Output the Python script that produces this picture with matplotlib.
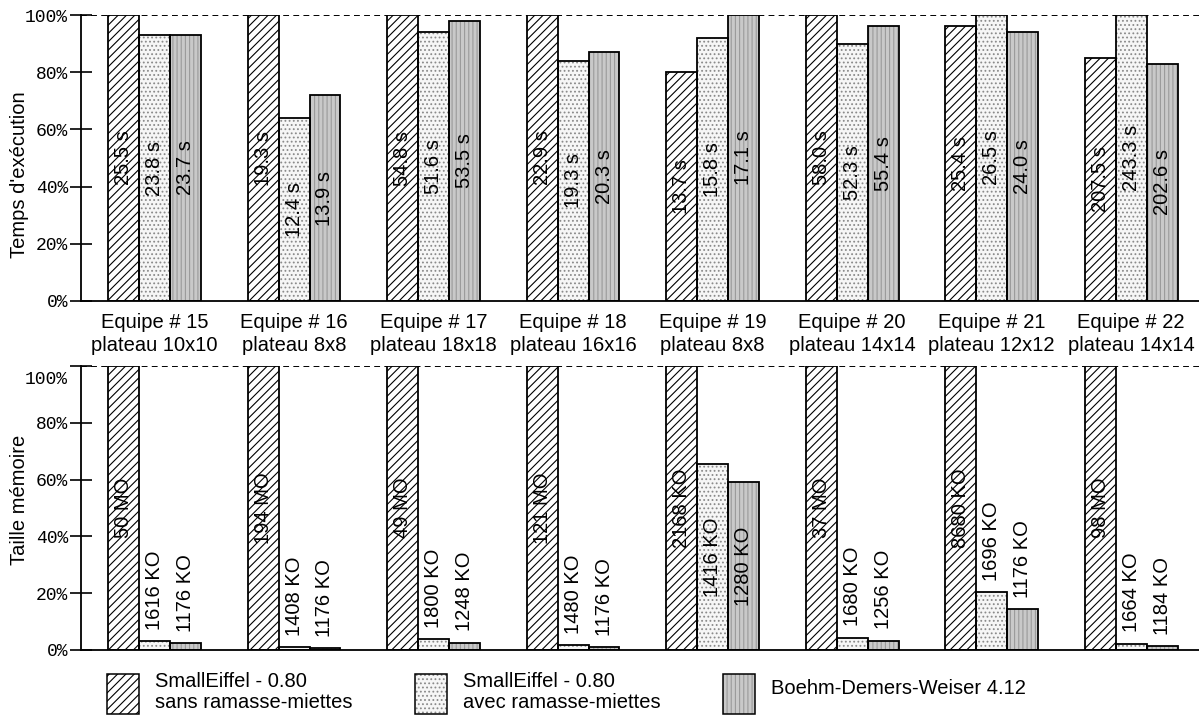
import numpy as np
import matplotlib
matplotlib.use("Agg")
import matplotlib.pyplot as plt
import matplotlib.transforms as mtrans
from matplotlib.patches import Rectangle

plt.rcParams['font.family'] = ['Liberation Sans', 'DejaVu Sans']
plt.rcParams['hatch.linewidth'] = 0.8

# data
equipes = ["Equipe # 15\nplateau 10x10", "Equipe # 16\nplateau 8x8",
           "Equipe # 17\nplateau 18x18", "Equipe # 18\nplateau 16x16",
           "Equipe # 19\nplateau 8x8", "Equipe # 20\nplateau 14x14",
           "Equipe # 21\nplateau 12x12", "Equipe # 22\nplateau 14x14"]
series = ["SmallEiffel - 0.80\nsans ramasse-miettes",
          "SmallEiffel - 0.80\navec ramasse-miettes",
          "Boehm-Demers-Weiser 4.12"]
pct_ticks = [0, 20, 40, 60, 80, 100]
pct_labels = ["0%", "20%", "40%", "60%", "80%", "100%"]

# temps d'execution (% du max)
temps_sans = [100, 100, 100, 100, 80, 100, 96, 85]
temps_avec = [93, 64, 94, 84, 92, 90, 100, 100]
temps_bdw = [93, 72, 98, 87, 100, 96, 94, 83]
temps_lbl_sans = ["25.5 s", "19.3 s", "54.8 s", "22.9 s", "13.7 s", "58.0 s", "25.4 s", "207.5 s"]
temps_lbl_avec = ["23.8 s", "12.4 s", "51.6 s", "19.3 s", "15.8 s", "52.3 s", "26.5 s", "243.3 s"]
temps_lbl_bdw = ["23.7 s", "13.9 s", "53.5 s", "20.3 s", "17.1 s", "55.4 s", "24.0 s", "202.6 s"]

# taille memoire (% du max)
mem_sans = [100, 100, 100, 100, 100, 100, 100, 100]
mem_avec = [3.2, 1.0, 3.7, 1.7, 65.5, 4.4, 20.4, 2.2]
mem_bdw = [2.3, 0.7, 2.6, 1.1, 59, 3.3, 14.4, 1.4]
mem_lbl_sans = ["50 MO", "194 MO", "49 MO", "121 MO", "2168 KO", "37 MO", "8680 KO", "98 MO"]
mem_lbl_avec = ["1616 KO", "1408 KO", "1800 KO", "1480 KO", "1416 KO", "1680 KO", "1696 KO", "1664 KO"]
mem_lbl_bdw = ["1176 KO", "1176 KO", "1248 KO", "1176 KO", "1280 KO", "1256 KO", "1176 KO", "1184 KO"]

styles = [dict(face="white", hatch="////", hcol="black"),
          dict(face="#f6f6f6", hatch="....", hcol="#8a8a8a"),
          dict(face="#c9c9c9", hatch="||||", hcol="#9a9a9a")]

W = 1199
H = 716
fig = plt.figure(figsize=(W / 100, H / 100), dpi=100)
ax1 = fig.add_axes([81 / W, (H - 301) / H, 1 - 81 / W, 286 / H])
ax2 = fig.add_axes([81 / W, (H - 650) / H, 1 - 81 / W, 284 / H])

x = np.arange(len(equipes))
bw = 0.222
off = [-bw, 0, bw]


def draw(ax, vals, lbls, small_above):
    for k in range(3):
        st = styles[k]
        ax.bar(x + off[k], vals[k], bw, color=st["face"], hatch=st["hatch"],
               edgecolor=st["hcol"], linewidth=0, zorder=2)
        ax.bar(x + off[k], vals[k], bw, facecolor="none", edgecolor="black",
               linewidth=1.3, zorder=3)
        for i in range(len(x)):
            v = vals[k][i]
            if small_above and v < 30:
                ax.text(x[i] + off[k], v + 4, lbls[k][i], rotation=90,
                        ha="center", va="bottom", fontsize=14.5, zorder=4)
            else:
                ax.text(x[i] + off[k], v / 2, lbls[k][i], rotation=90,
                        ha="center", va="center", fontsize=14.5, zorder=4)
    ax.axhline(100, color="black", lw=1.4, ls=(0, (3, 2.2)), zorder=1)
    ax.set_xlim(-0.527, 7.487)
    ax.set_ylim(0, 100)
    ax.set_yticks(pct_ticks)
    ax.set_yticklabels(pct_labels)
    ax.tick_params(axis="y", direction="inout", length=16, width=1.2, pad=1.4,
                   labelsize=13, labelfontfamily="Liberation Mono")
    ax.spines["top"].set_visible(False)
    ax.spines["right"].set_visible(False)
    ax.spines["left"].set_linewidth(1.3)
    ax.spines["bottom"].set_linewidth(1.3)
    ax.spines["bottom"].set_zorder(5)


draw(ax1, [temps_sans, temps_avec, temps_bdw],
     [temps_lbl_sans, temps_lbl_avec, temps_lbl_bdw], False)
draw(ax2, [mem_sans, mem_avec, mem_bdw],
     [mem_lbl_sans, mem_lbl_avec, mem_lbl_bdw], True)

# 100% label of the lower chart sits a bit under its tick
top_lbl = ax2.get_yticklabels()[-1]
top_lbl.set_transform(top_lbl.get_transform() +
                      mtrans.ScaledTranslation(0, -12 / 100, fig.dpi_scale_trans))

ax1.set_xticks(x)
ax1.set_xticklabels(equipes, fontsize=14.5, linespacing=1.25)
ax1.tick_params(axis="x", length=0, pad=9)
ax2.set_xticks([])

ax1.set_ylabel("Temps d'exécution", fontsize=14.5)
ax1.yaxis.set_label_coords(-0.0465, 0.44)
ax2.set_ylabel("Taille mémoire", fontsize=14.5)
ax2.yaxis.set_label_coords(-0.0465, 0.53)

# legend, drawn by hand
leg_x = [107, 415, 723]
for k in range(3):
    st = styles[k]
    x0 = leg_x[k] / W
    y0 = (H - 714) / H
    fig.add_artist(Rectangle((x0, y0), 32 / W, 40 / H, transform=fig.transFigure,
                             facecolor=st["face"], hatch=st["hatch"],
                             edgecolor=st["hcol"], linewidth=0))
    fig.add_artist(Rectangle((x0, y0), 32 / W, 40 / H, transform=fig.transFigure,
                             facecolor="none", edgecolor="black", linewidth=1.1))
    ty = 692 if "\n" in series[k] else 689
    fig.text((leg_x[k] + 48) / W, (H - ty) / H, series[k], fontsize=14.5,
             ha="left", va="center", linespacing=1.15)

fig.savefig("out.png", dpi=100)
